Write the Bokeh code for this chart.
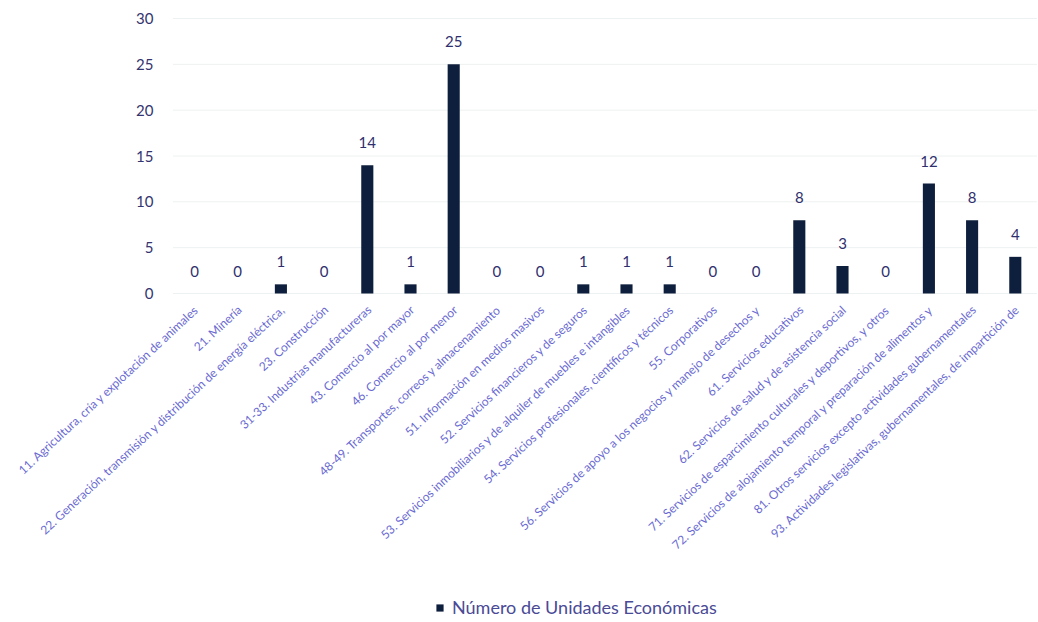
from bokeh.plotting import figure
from bokeh.models import ColumnDataSource, Range1d, Legend, LegendItem, LabelSet
from bokeh.core.properties import value
from bokeh.embed import file_html
from bokeh.resources import INLINE

categories = [
    "11. Agricultura, cría y explotación de animales",
    "21. Minería",
    "22. Generación, transmisión y distribución de energía eléctrica,",
    "23. Construcción",
    "31-33. Industrias manufactureras",
    "43. Comercio al por mayor",
    "46. Comercio al por menor",
    "48-49. Transportes, correos y almacenamiento",
    "51. Información en medios masivos",
    "52. Servicios financieros y de seguros",
    "53. Servicios inmobiliarios y de alquiler de muebles e intangibles",
    "54. Servicios profesionales, científicos y técnicos",
    "55. Corporativos",
    "56. Servicios de apoyo a los negocios y manejo de desechos y",
    "61. Servicios educativos",
    "62. Servicios de salud y de asistencia social",
    "71. Servicios de esparcimiento culturales y deportivos, y otros",
    "72. Servicios de alojamiento temporal y preparación de alimentos y",
    "81. Otros servicios excepto actividades gubernamentales",
    "93. Actividades legislativas, gubernamentales, de impartición de",
]
values = [0, 0, 1, 0, 14, 1, 25, 0, 0, 1, 1, 1, 0, 0, 8, 3, 0, 12, 8, 4]
y_ticks = [0, 5, 10, 15, 20, 25, 30]
series_name = "Número de Unidades Económicas"

FONT = "Lato"

# layout constants (pixels)
W, H = 1038, 620
FIRST_CAT_PX = 194     # centre of first category
STEP_PX = 43.2         # distance between categories
TOP_PX = 18            # pixel position of the top tick
PLOT_PX = 275          # pixel height of the 0..30 value area
TICK_LABEL_PX = 153    # right edge of y tick labels
Y_MAX = y_ticks[-1]

x_start = -FIRST_CAT_PX / STEP_PX
x_end = x_start + W / STEP_PX
unit_px = PLOT_PX / Y_MAX
y_end = Y_MAX + TOP_PX / unit_px
y_start = y_end - H / unit_px
n = len(categories)
idx = list(range(n))

src = ColumnDataSource(dict(idx=idx, cat=categories, val=values,
                            lbl=[str(v) for v in values], base=[0] * n))

p = figure(x_range=Range1d(x_start, x_end), y_range=Range1d(y_start, y_end),
           frame_width=W, frame_height=H, output_backend="svg", toolbar_location=None,
           x_axis_location=None, y_axis_location=None,
           min_border_left=0, min_border_right=0, min_border_top=0, min_border_bottom=0)
p.outline_line_color = None
p.background_fill_color = "white"
p.border_fill_color = "white"
p.xgrid.grid_line_color = None
p.ygrid.grid_line_color = None

# faint horizontal gridlines across the value area
p.segment(x0=[-0.5] * len(y_ticks), x1=[n - 0.5] * len(y_ticks), y0=y_ticks, y1=y_ticks,
          line_color="#eef1f1", line_width=1)

r = p.vbar(x="idx", top="val", width=0.28, source=src, fill_color="#0e1f3d", line_color=None)

# value labels
p.add_layout(LabelSet(x="idx", y="val", text="lbl", source=src, text_align="center",
                      text_baseline="bottom", y_offset=17, text_font=value(FONT),
                      text_font_size="15px", text_color="#2f2f6e"))

# y tick labels
tick_src = ColumnDataSource(dict(y=y_ticks, t=[str(t) for t in y_ticks],
                                 x=[x_start + TICK_LABEL_PX / STEP_PX] * len(y_ticks)))
p.add_layout(LabelSet(x="x", y="y", text="t", source=tick_src, text_align="right",
                      text_baseline="middle", text_font=value(FONT),
                      text_font_size="15px", text_color="#34346f"))

# category labels, rotated, hanging below the zero line
p.add_layout(LabelSet(x="idx", y="base", text="cat", source=src, angle=0.75, text_align="right",
                      text_baseline="middle", x_offset=2, y_offset=-14, text_font=value(FONT),
                      text_font_size="12px", text_color="#6a6ad2"))

legend = Legend(items=[LegendItem(label=series_name, renderers=[r])], orientation="horizontal",
                location=(435, 2), border_line_color=None, background_fill_alpha=0,
                label_text_font=FONT,
                label_text_font_size="18px", label_text_color="#4a4a96",
                glyph_width=9, glyph_height=9, margin=0, padding=2, spacing=4,
                label_standoff=8)
p.add_layout(legend)

open("out.html", "w").write(file_html(p, INLINE))
